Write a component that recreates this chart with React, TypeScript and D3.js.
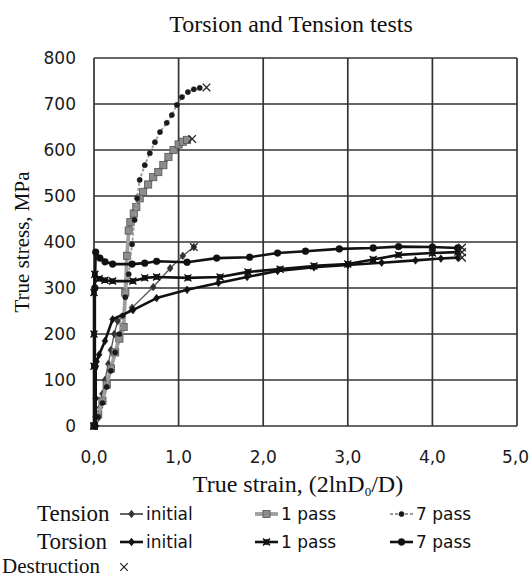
import React from "react";
import * as d3 from "d3";

// ---- data ----
const xTicks = [0, 1, 2, 3, 4, 5];
const yTicks = [0, 100, 200, 300, 400, 500, 600, 700, 800];

const tensionInitialX = [0.01, 0.04, 0.07, 0.1, 0.13, 0.17, 0.2, 0.24, 0.28, 0.45, 0.7, 0.9, 1.05, 1.18];
const tensionInitialY = [0, 15, 40, 70, 100, 135, 165, 200, 228, 257, 302, 343, 370, 389];

const tension1X = [0, 0.05, 0.1, 0.15, 0.2, 0.25, 0.3, 0.35, 0.37, 0.39, 0.41, 0.43, 0.47, 0.5, 0.54, 0.58, 0.64, 0.7, 0.76, 0.82, 0.88, 0.94, 1.0, 1.05, 1.1];
const tension1Y = [0, 25, 55, 90, 125, 160, 190, 215, 290, 370, 425, 443, 462, 476, 495, 509, 525, 541, 552, 567, 585, 600, 612, 618, 622];

const tension7X = [0, 0.05, 0.1, 0.15, 0.2, 0.25, 0.3, 0.34, 0.37, 0.41, 0.45, 0.48, 0.51, 0.54, 0.6, 0.66, 0.72, 0.78, 0.86, 0.92, 0.98, 1.04, 1.11, 1.18, 1.25];
const tension7Y = [0, 20, 50, 85, 120, 160, 200, 240, 280, 330, 395, 448, 495, 535, 567, 593, 617, 639, 659, 676, 698, 715, 726, 732, 735];

const torsionInitialX = [0.02, 0.02, 0.02, 0.02, 0.03, 0.06, 0.13, 0.22, 0.46, 0.74, 1.1, 1.47, 1.81, 2.17, 2.6, 3.0, 3.4, 3.8, 4.1, 4.3];
const torsionInitialY = [0, 20, 60, 130, 140, 155, 185, 232, 252, 278, 296, 311, 324, 337, 345, 350, 355, 360, 364, 366];

const torsion1X = [0, 0, 0, 0, 0.01, 0.06, 0.13, 0.22, 0.46, 0.6, 0.74, 1.11, 1.49, 1.82, 2.2, 2.6, 3.0, 3.3, 3.6, 4.0, 4.3];
const torsion1Y = [0, 130, 200, 290, 330, 320, 317, 315, 315, 322, 324, 322, 324, 335, 341, 348, 352, 362, 372, 376, 378];

const torsion7X = [0.01, 0.01, 0.01, 0.02, 0.07, 0.13, 0.22, 0.45, 0.6, 0.74, 1.1, 1.45, 1.84, 2.17, 2.5, 2.9, 3.3, 3.6, 4.0, 4.3];
const torsion7Y = [0, 130, 300, 378, 365, 357, 352, 352, 354, 358, 356, 365, 367, 376, 380, 385, 387, 390, 389, 387];

const destructionX = [1.18, 1.16, 1.33, 4.35, 4.35, 4.35];
const destructionY = [389, 624, 736, 366, 378, 388];

type Marker = "diamond" | "square" | "circle" | "xsquare";
interface Series {
  name: string;
  group: string;
  xs: number[];
  ys: number[];
  stroke: string;
  width: number;
  dash?: string;
  marker: Marker;
  mFill: string;
  mStroke: string;
  mSize: number;
}

const series: Series[] = [
  { name: "initial", group: "Tension", xs: tensionInitialX, ys: tensionInitialY, stroke: "#5e5e5e", width: 1.4, marker: "diamond", mFill: "#333", mStroke: "#333", mSize: 3 },
  { name: "1 pass", group: "Tension", xs: tension1X, ys: tension1Y, stroke: "#a0a0a0", width: 3.8, marker: "square", mFill: "#8c8c8c", mStroke: "#555", mSize: 3.6 },
  { name: "7 pass", group: "Tension", xs: tension7X, ys: tension7Y, stroke: "#9a9a9a", width: 1.8, dash: "3,2", marker: "circle", mFill: "#1a1a1a", mStroke: "#1a1a1a", mSize: 2.6 },
  { name: "initial", group: "Torsion", xs: torsionInitialX, ys: torsionInitialY, stroke: "#111", width: 2.6, marker: "diamond", mFill: "#111", mStroke: "#111", mSize: 3 },
  { name: "1 pass", group: "Torsion", xs: torsion1X, ys: torsion1Y, stroke: "#111", width: 2.6, marker: "xsquare", mFill: "#111", mStroke: "#111", mSize: 3.5 },
  { name: "7 pass", group: "Torsion", xs: torsion7X, ys: torsion7Y, stroke: "#111", width: 2.6, marker: "circle", mFill: "#111", mStroke: "#111", mSize: 3.4 },
];

const W = 529;
const H = 578;
const plot = { left: 94, right: 517, top: 58, bottom: 426 };

const serif = "'Liberation Serif', 'Times New Roman', serif";
const sans = "'DejaVu Sans', 'Noto Sans', sans-serif";

function MarkerShape({ type, x, y, s, fill, stroke }: { type: Marker; x: number; y: number; s: number; fill: string; stroke: string }) {
  if (type === "circle") return <circle cx={x} cy={y} r={s} fill={fill} stroke={stroke} strokeWidth={0.5} />;
  if (type === "square") return <rect x={x - s} y={y - s} width={2 * s} height={2 * s} fill={fill} stroke={stroke} strokeWidth={0.8} />;
  if (type === "xsquare")
    return (
      <g>
        <rect x={x - s * 0.8} y={y - s * 0.8} width={1.6 * s} height={1.6 * s} fill={fill} />
        <path d={`M${x - s},${y - s}L${x + s},${y + s}M${x - s},${y + s}L${x + s},${y - s}`} stroke={stroke} strokeWidth={1.4} />
      </g>
    );
  return <path d={`M${x},${y - s * 1.3}L${x + s},${y}L${x},${y + s * 1.3}L${x - s},${y}Z`} fill={fill} stroke={stroke} strokeWidth={0.5} />;
}

function XMark({ x, y, s, color, w }: { x: number; y: number; s: number; color: string; w: number }) {
  return <path d={`M${x - s},${y - s}L${x + s},${y + s}M${x - s},${y + s}L${x + s},${y - s}`} stroke={color} strokeWidth={w} fill="none" />;
}

export default function App() {
  const x = d3.scaleLinear().domain([0, 5]).range([plot.left, plot.right]);
  const y = d3.scaleLinear().domain([0, 800]).range([plot.bottom, plot.top]);
  const line = d3
    .line<[number, number]>()
    .x((d) => x(d[0]))
    .y((d) => y(d[1]));

  const legendCols = [120, 255, 390];
  const legendRows: Record<string, number> = { Tension: 514, Torsion: 542 };

  return (
    <svg width={W} height={H} style={{ position: "absolute", left: 0, top: 0, background: "#fff" }}>
      <rect width={W} height={H} fill="#fff" />
      <text x={291} y={32} textAnchor="middle" fontFamily={serif} fontSize={24} fill="#111">
        Torsion and Tension tests
      </text>

      {/* grid */}
      {yTicks.map((t) => (
        <line key={"gy" + t} x1={plot.left} x2={plot.right} y1={y(t)} y2={y(t)} stroke="#333" strokeWidth={1.7} />
      ))}
      {xTicks.map((t) => (
        <line key={"gx" + t} x1={x(t)} x2={x(t)} y1={plot.top} y2={plot.bottom} stroke="#333" strokeWidth={1.7} />
      ))}

      {/* tick labels */}
      {yTicks.map((t) => (
        <text key={"ty" + t} x={76} y={y(t)} dy="0.36em" textAnchor="end" fontFamily={sans} fontSize={17} fill="#1a1a1a">
          {t}
        </text>
      ))}
      {xTicks.map((t, i) => (
        <text
          key={"tx" + t}
          x={i === xTicks.length - 1 ? W : x(t)}
          y={463}
          textAnchor={i === xTicks.length - 1 ? "end" : "middle"}
          fontFamily={sans}
          fontSize={17}
          fill="#1a1a1a"
        >
          {d3.format(".1f")(t).replace(".", ",")}
        </text>
      ))}

      {/* axis titles */}
      <text transform={`translate(29,${(plot.top + plot.bottom) / 2}) rotate(-90)`} textAnchor="middle" fontFamily={serif} fontSize={21} fill="#111">
        True stress, MPa
      </text>
      <text x={298} y={492} textAnchor="middle" fontFamily={serif} fontSize={24} fill="#111">
        True strain, (2lnD<tspan fontSize={13} dy={4}>0</tspan>
        <tspan dy={-4}>/D)</tspan>
      </text>

      {/* series */}
      {series.map((s, i) => {
        const pts = s.xs.map((v, j) => [v, s.ys[j]] as [number, number]);
        return (
          <g key={"s" + i}>
            <path d={line(pts) || ""} fill="none" stroke={s.stroke} strokeWidth={s.width} strokeDasharray={s.dash} strokeLinejoin="round" />
            {pts.map((p, j) => (
              <MarkerShape key={j} type={s.marker} x={x(p[0])} y={y(p[1])} s={s.mSize} fill={s.mFill} stroke={s.mStroke} />
            ))}
          </g>
        );
      })}

      {/* destruction marks */}
      {destructionX.map((v, i) => (
        <XMark key={"d" + i} x={x(v)} y={y(destructionY[i])} s={3.8} color="#222" w={1.3} />
      ))}

      {/* legend */}
      {Object.keys(legendRows).map((g) => (
        <text key={"lg" + g} x={37} y={legendRows[g] + 7} fontFamily={serif} fontSize={23} fill="#111">
          {g}
        </text>
      ))}
      {series.map((s, i) => {
        const cx = legendCols[i % 3];
        const cy = legendRows[s.group];
        return (
          <g key={"li" + i}>
            <line x1={cx} x2={cx + 23} y1={cy} y2={cy} stroke={s.group === "Tension" && i === 0 ? "#222" : s.stroke} strokeWidth={s.width} strokeDasharray={s.dash} />
            <MarkerShape type={s.marker} x={cx + 11.5} y={cy} s={s.mSize} fill={s.mFill} stroke={s.mStroke} />
            <text x={cx + 26} y={cy} dy="0.36em" fontFamily={sans} fontSize={17} fill="#111">
              {s.name}
            </text>
          </g>
        );
      })}
      <text x={2} y={573} fontFamily={serif} fontSize={21} fill="#111">
        Destruction
      </text>
      <XMark x={124} y={567} s={3.8} color="#222" w={1.2} />
    </svg>
  );
}
